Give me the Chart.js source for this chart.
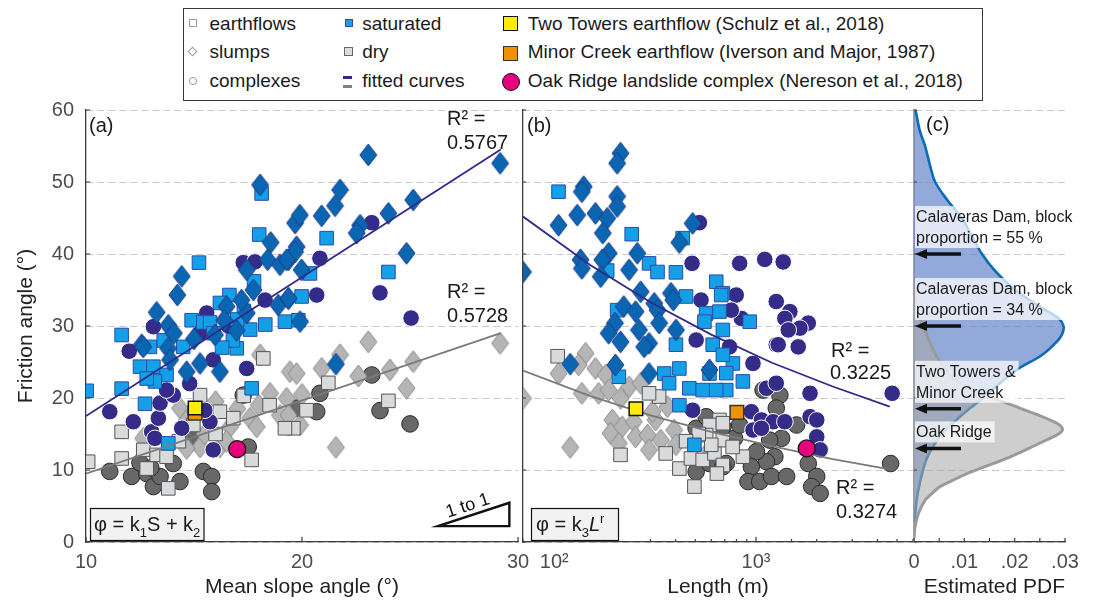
<!DOCTYPE html>
<html><head><meta charset="utf-8">
<script src="https://cdn.jsdelivr.net/npm/chart.js@4.4.1/dist/chart.umd.min.js"></script>
<style>
html,body{margin:0;padding:0;background:#fff;}
#wrap{position:relative;width:1093px;height:600px;overflow:hidden;font-family:"Liberation Sans",Arial,Helvetica,sans-serif;}
canvas{position:absolute;left:0;top:0;}
#legend{position:absolute;left:183px;top:8px;width:800px;height:93px;border:1.5px solid #3a3a3a;background:#fff;box-sizing:border-box;}
.lt{position:absolute;font-size:19px;line-height:22px;color:#1a1a1a;white-space:nowrap;}
.mk{position:absolute;box-sizing:border-box;}
</style></head>
<body><div id="wrap">
<canvas id="cA" width="1093" height="600"></canvas>
<canvas id="cB" width="1093" height="600"></canvas>
<canvas id="cC" width="1093" height="600"></canvas>
<div id="legend">
  <div class="mk" style="left:4.8px;top:9.8px;width:8px;height:8px;border:1px solid #9a9a9a;background:#fff"></div>
  <div class="mk" style="left:5.3px;top:39.3px;width:7px;height:7px;border:1px solid #9a9a9a;background:#fff;transform:rotate(45deg)"></div>
  <div class="mk" style="left:4.8px;top:68.2px;width:8px;height:8px;border:1px solid #9a9a9a;background:#fff;border-radius:50%"></div>
  <div class="lt" style="left:25.5px;top:3.6px">earthflows</div>
  <div class="lt" style="left:25.5px;top:32.4px">slumps</div>
  <div class="lt" style="left:25.5px;top:61.2px">complexes</div>
  <div class="mk" style="left:160.5px;top:9.6px;width:8.5px;height:8.5px;border:1px solid #2c4aa0;background:#1aa0e4"></div>
  <div class="mk" style="left:160.3px;top:38.3px;width:9px;height:9px;border:1px solid #666;background:#dcdcdc"></div>
  <div class="mk" style="left:158.5px;top:66.5px;width:9.7px;height:3.3px;background:#2e2a8c"></div>
  <div class="mk" style="left:158.5px;top:75.5px;width:9.7px;height:3.3px;background:#808080"></div>
  <div class="lt" style="left:178.2px;top:3.6px">saturated</div>
  <div class="lt" style="left:178.2px;top:32.4px">dry</div>
  <div class="lt" style="left:178.2px;top:61.2px">fitted curves</div>
  <div class="mk" style="left:319px;top:7.2px;width:15px;height:15px;border:1.5px solid #111;background:#ffec00"></div>
  <div class="mk" style="left:319px;top:36.8px;width:15px;height:15px;border:1.5px solid #333;background:#f29100"></div>
  <div class="mk" style="left:317.5px;top:64px;width:18px;height:18px;border:1.5px solid #111;background:#e5007d;border-radius:50%"></div>
  <div class="lt" style="left:343.8px;top:3.6px">Two Towers earthflow (Schulz et al., 2018)</div>
  <div class="lt" style="left:343.8px;top:32.4px">Minor Creek earthflow (Iverson and Major, 1987)</div>
  <div class="lt" style="left:343.8px;top:61.2px">Oak Ridge landslide complex (Nereson et al., 2018)</div>
</div>
</div>
<script>
// ---------------- DATA ----------------
// Panel (a): mean slope angle S (deg) vs friction angle phi (deg)
const aSatFlowS   = [18.13,18.02,15.23,17.78,16.64,16.2,19.21,19.83,11.65,14.89,15.43,15.74,17.31,12.96,14.5,10.03,11.65,12.73,13.81,17.67,12.5,13.12,13.73,13.19,12.81,16.98,21.14,20.37,24.0,19.98,15.9,16.8,17.6,18.3,16.3,13.6,17.0];
const aSatFlowPhi = [48.4,42.7,38.8,36.2,34.3,33.2,30.6,30.8,28.75,30.8,30.5,30.5,32.1,27.1,27.1,21.0,21.3,19.2,13.7,21.35,24.35,24.35,23.2,22.3,22.7,26.9,42.2,37.3,37.5,34.1,29.0,28.0,29.5,30.2,27.0,28.0,30.9];
const aSatSlumpS   = [18.06,18.55,18.41,19.37,18.98,19.68,19.75,14.43,14.23,17.44,17.75,16.51,18.9,19.37,13.27,13.81,14.07,17.44,16.97,15.97,12.58,13.8,16.2,15.28,14.66,13.89,12.65,23.07,29.17,21.76,21.53,19.9,20.91,22.69,22.53,24.0,25.15,19.68,19.29,19.98,24.84,19.37,19.91,21.57,17.2,15.0,16.4];
const aSatSlumpPhi = [49.6,41.6,39.2,39.2,38.5,44.3,41.0,36.9,34.3,37.8,35.0,32.7,32.9,33.8,31.9,30.1,29.0,31.8,29.4,28.75,27.4,26.9,23.65,24.8,23.65,25.3,27.1,53.75,52.6,48.9,46.7,45.4,45.3,44.0,42.9,45.65,47.5,40.3,39.2,37.8,40.1,33.85,30.6,24.7,33.6,28.2,30.8];
const aSatCplxS   = [17.28,17.82,18.29,13.12,15.59,15.28,11.1,12.19,13.04,13.35,13.43,14.04,13.19,17.44,15.89,13.73,14.43,15.74,15.89,15.5,23.23,20.83,20.68,23.61,25.05,12.0,14.8,16.6];
const aSatCplxPhi = [38.8,38.9,33.6,29.9,31.8,29.0,18.1,16.7,15.3,17.2,19.3,20.4,14.4,24.1,25.3,21.1,15.8,16.7,12.8,18.3,44.35,39.4,34.3,34.6,31.1,26.5,22.0,30.0];
const aDryFlowS   = [11.65,12.65,13.27,13.73,10.1,11.65,12.81,13.81,17.67,15.28,16.2,16.82,14.97,18.21,19.6,24.0,21.22,20.21,19.21,17.3,18.5,16.0,14.3];
const aDryFlowPhi = [15.3,12.8,12.1,11.85,11.15,11.6,10.2,7.45,11.4,20.4,18.1,17.2,16.25,25.5,15.8,19.6,22.1,18.3,15.8,20.3,19.0,15.0,14.0];
const aDrySlumpS   = [12.65,14.35,14.66,15.28,14.66,16.2,16.67,17.59,18.06,19.44,18.52,19.29,18.98,17.9,29.17,23.07,21.76,19.75,20.91,22.61,24.07,25.15,24.84,21.57,19.91,19.37,16.0,17.0,18.0,20.0,15.5,16.5];
const aDrySlumpPhi = [14.4,18.6,16.9,13.2,13.0,13.2,16.0,17.2,26.0,23.65,20.65,19.95,17.6,16.0,27.6,27.8,26.0,23.4,24.1,23.05,23.9,25.05,21.35,13.15,16.25,17.6,19.5,18.5,19.0,20.5,15.0,14.0];
const aDryCplxS   = [11.1,12.11,12.81,13.12,13.43,14.04,14.35,15.43,15.82,15.82,14.97,17.28,17.51,19.75,23.23,20.83,20.68,23.61,25.0,12.5,13.0];
const aDryCplxPhi = [9.8,9.1,9.5,7.7,9.1,10.9,8.4,9.8,9.1,7.0,14.6,20.4,13.2,18.6,23.2,20.65,18.1,18.25,16.4,11.0,10.3];
const aSatFitS = [10, 29.2],  aSatFitPhi = [17.5, 54.5];
const aDryFitS = [10, 29.2],  aDryFitPhi = [9.5, 29.0];
const aSpecialS = [17.0, 15.05, 15.05];   // Oak Ridge, Two Towers, Minor Creek
const aSpecialPhi = [12.9, 18.6, 17.9];

// Panel (b): length L (m) vs friction angle phi (deg)
const bSatFlowL   = [105,242,433,183,295,325,401,635,450,685,205,566,659,555,685,401,610,931,672,768,861,712,712,685,209,351,371,417,467,544,635,495,588,417];
const bSatFlowPhi = [48.65,42.75,42.2,37.7,38.7,37.5,37.45,36.15,34.1,34.55,32.2,31.75,32.0,30.6,29.45,27.4,27.4,30.6,34.3,24.8,22.3,23.45,21.1,26.0,22.95,23.4,22.05,19.0,21.35,21.1,21.1,13.5,23.4,24.1];
const bSatSlumpL   = [213,205,140,137,205,205,105,130,160,183,174,485,417,186,173,258,135,137,170,235,268,379,389,221,253,313,325,200,263,331,401,186,213,295,70,120,201,295,279,588];
const bSatSlumpPhi = [54.0,52.6,49.35,48.65,48.0,46.6,44.0,45.4,45.65,44.95,42.9,44.25,41.6,40.1,39.2,40.1,39.2,38.0,36.85,37.8,34.75,34.55,33.6,32.7,32.0,33.15,32.2,30.4,29.45,30.4,29.45,29.0,27.8,27.6,37.5,24.7,24.6,23.4,27.1,23.9];
const bSatCplxL   = [524,482,534,505,830,1105,1364,798,1260,1472,1390,1816,1652,1445,846,754,1260,1619,739,1288,966,1127,1260,1853,4730,948,1064,1216,1390,966,1064,1853,2000,2000,2080,485];
const bSatCplxPhi = [44.35,38.7,33.6,28.05,38.7,39.25,38.9,34.3,33.4,32.0,31.05,30.4,29.7,29.45,31.05,32.2,27.4,27.1,27.1,27.4,24.8,21.35,22.05,20.65,20.65,18.1,16.95,16.7,16.7,15.55,15.8,17.4,16.95,14.6,12.8,18.3];
const bDryFlowL   = [104,213,357,417,495,476,544,622,685,659,588,566,331,295,861,685,766,685,600,520,450,640];
const bDryFlowPhi = [25.8,12.1,12.3,10.2,7.7,11.6,11.4,12.3,14.15,16.95,16.25,14.85,20.2,20.65,11.85,16.5,13.2,10.7,13.5,15.0,14.0,9.5];
const bDrySlumpL   = [70,120,143,132,105,160,180,137,166,186,235,268,213,194,190,217,209,248,253,290,295,318,337,393,401,588,364,307];
const bDrySlumpPhi = [19.95,13.15,26.2,24.6,23.4,24.1,23.2,20.65,20.65,21.1,21.55,22.05,19.95,16.95,15.1,16.0,13.7,16.7,14.6,14.85,12.8,16.95,14.15,15.55,13.5,12.8,18.8,18.1];
const bDryCplxL   = [1084,1313,1260,1589,1340,1170,1240,1127,1005,948,912,1043,1193,1419,1816,2000,1888,2080,4645,783,830,712,505,588,685,505,566,685];
const bDryCplxPhi = [21.1,20.4,18.6,16.25,14.4,14.15,11.85,11.15,12.55,10.45,8.4,8.4,9.1,9.1,10.9,9.1,7.7,6.75,10.9,14.4,16.25,10.9,9.75,10.9,10.45,15.8,17.4,16.0];
const bSatFitL = [70,150,300,600,1200,2400,4600], bSatFitPhi = [45.2,38.5,33.3,28.8,24.9,21.6,18.8];
const bDryFitL = [70,150,300,600,1200,2400,4400], bDryFitPhi = [23.8,20.3,17.6,15.3,13.3,11.5,10.2];
const bSpecialL = [1783, 254, 804];       // Oak Ridge, Two Towers, Minor Creek
const bSpecialPhi = [13.0, 18.5, 18.0];

// Panel (c): estimated PDF of friction angle
const satPdfPhi = [60,57,55,52,50,47.5,45,42.5,40,37.5,35,32.7,31,30,29,28,26,24,22,20,18.5,17,15,12,10,7,5,3,1.5];
const satPdf    = [0.0003,0.0012,0.0022,0.0033,0.0042,0.0066,0.0095,0.0115,0.0135,0.0163,0.0201,0.025,0.0288,0.0297,0.0295,0.0286,0.0255,0.0206,0.017,0.0137,0.011,0.0085,0.0055,0.0028,0.0018,0.0008,0.0004,0.0001,0];
const dryPdfPhi = [36,33.6,31,29,27,25,23,21.5,20.2,19,17.9,16.8,16.2,15.6,15,14.2,13,11.8,10.5,9.5,8.5,7.7,6.5,5.8,4,2.1,0.5];
const dryPdf    = [0,0.0002,0.0012,0.0024,0.0036,0.0052,0.0075,0.0105,0.015,0.0195,0.0237,0.0275,0.029,0.0295,0.0287,0.0264,0.0228,0.019,0.0142,0.0105,0.0075,0.0052,0.0032,0.0022,0.0009,0.0002,0];
const notePhi = [40, 30, 18.5, 13];
const noteText = [['Calaveras Dam, block','proportion = 55 %'],['Calaveras Dam, block','proportion = 34 %'],['Two Towers &','Minor Creek'],['Oak Ridge']];

// Axis tick labels
const yTicks = [0,10,20,30,40,50,60];
const bTickLabels = {100:'10²', 1000:'10³'};
const cTickLabels = ['0','.01','.02','.03'];

// ---------------- RENDER ----------------
const FF = '"Liberation Sans", Arial, Helvetica, sans-serif';
Chart.defaults.font.family = FF;
const pts = (xs, ys) => xs.map((x, i) => ({x, y: ys[i]}));

function diamond(w, h, fill, stroke){
  const c = document.createElement('canvas'); c.width = w + 2; c.height = h + 2;
  const g = c.getContext('2d');
  g.beginPath(); g.moveTo(c.width/2, 1); g.lineTo(c.width-1, c.height/2); g.lineTo(c.width/2, c.height-1); g.lineTo(1, c.height/2); g.closePath();
  g.fillStyle = fill; g.fill(); g.lineWidth = 1; g.strokeStyle = stroke; g.stroke();
  return c;
}
const satDia = diamond(17, 22, '#0b66b1', '#1e3c8e');
const dryDia = diamond(17, 22, '#b5b5b5', '#8a8a8a');

const ST = {
  satSlump: {pointStyle: satDia, pointRadius: 11},
  satFlow:  {pointStyle: 'rect', pointRadius: 9.6, backgroundColor: '#14a0e6', borderColor: '#2c4ca6', borderWidth: 1},
  satCplx:  {pointStyle: 'circle', pointRadius: 8.3, backgroundColor: '#352b89', borderColor: '#ffffff', borderWidth: 1},
  drySlump: {pointStyle: dryDia, pointRadius: 11},
  dryFlow:  {pointStyle: 'rect', pointRadius: 9.6, backgroundColor: '#d9dadb', borderColor: '#555555', borderWidth: 1},
  dryCplx:  {pointStyle: 'circle', pointRadius: 8.3, backgroundColor: '#686868', borderColor: '#2a2a2a', borderWidth: 1}
};
function specials(xs, ys){
  return [
    {data: [{x: xs[0], y: ys[0]}], pointStyle: 'circle', pointRadius: 8.5, backgroundColor: '#e5007d', borderColor: '#111', borderWidth: 1.3},
    {data: [{x: xs[1], y: ys[1]}], pointStyle: 'rect', pointRadius: 9.6, backgroundColor: '#ffec00', borderColor: '#111', borderWidth: 1.5},
    {data: [{x: xs[2], y: ys[2]}], pointStyle: 'rect', pointRadius: 9.6, backgroundColor: '#f29100', borderColor: '#333', borderWidth: 1.5}
  ];
}
const fitLine = (d, col) => ({data: d, showLine: true, pointRadius: 0, borderColor: col, borderWidth: 1.8, fill: false});

const zeroPad = s => { s.paddingLeft = 0; s.paddingRight = 0; s.paddingTop = 0; s.paddingBottom = 0; };
const fixW = w => s => { s.width = w; zeroPad(s); };
const fixH = h => s => { s.height = h; zeroPad(s); };

function yScale(showLabels, borderColor, borderWidth){
  return {
    type: 'linear', min: 0, max: 60,
    afterFit: fixW(showLabels ? 86 : 0),
    afterBuildTicks: s => { s.ticks = yTicks.map(v => ({value: v})); },
    ticks: {display: showLabels, color: '#4d4d4d', font: {size: 20}, padding: 12},
    grid: {display: true, color: '#c9c9c9', lineWidth: 1, drawTicks: false},
    border: {display: true, color: borderColor, width: borderWidth, dash: [7, 4]},
    title: {display: showLabels, text: 'Friction angle (°)', color: '#222', font: {size: 21}, padding: {top: 14, bottom: 0}}
  };
}
function xTitle(t, align){ return {display: true, text: t, color: '#222', font: {size: 21}, padding: {top: 0, bottom: 0}, align: align || 'center'}; }

const inTicks = {
  id: 'inTicks',
  afterDraw(chart, args, o){
    const {ctx, chartArea: ca, scales: {x, y}} = chart;
    ctx.save(); ctx.strokeStyle = o.color; ctx.lineWidth = 1.2; ctx.beginPath();
    x.ticks.forEach(t => {
      const p = x.getPixelForValue(t.value);
      const len = (t.label !== '' && t.label !== undefined) ? o.xMajor : o.xMinor;
      ctx.moveTo(p, ca.bottom); ctx.lineTo(p, ca.bottom - len);
    });
    y.ticks.forEach(t => { const p = y.getPixelForValue(t.value); ctx.moveTo(ca.left, p); ctx.lineTo(ca.left + o.yLen, p); });
    ctx.stroke(); ctx.restore();
  }
};

function drawRuns(ctx, runs, x, y, size){
  runs.forEach(r => {
    const fs = (r.sub || r.sup) ? Math.round(size * 0.65) : size;
    ctx.font = (r.it ? 'italic ' : '') + fs + 'px ' + FF;
    const dy = r.sub ? size * 0.28 : (r.sup ? -size * 0.42 : 0);
    ctx.fillText(r.t, x, y + dy);
    x += ctx.measureText(r.t).width;
  });
}
function formulaBox(ctx, x0, y0, w, h, runs, tx, ty){
  ctx.fillStyle = '#f2f2f2'; ctx.fillRect(x0, y0, w, h);
  ctx.strokeStyle = '#111'; ctx.lineWidth = 1.2; ctx.strokeRect(x0, y0, w, h);
  ctx.fillStyle = '#1a1a1a'; drawRuns(ctx, runs, tx, ty, 20);
}

const annotA = {
  id: 'annotA',
  afterDraw(chart){
    const {ctx, chartArea: ca, scales: {x, y}} = chart;
    ctx.save();
    ctx.textAlign = 'left'; ctx.textBaseline = 'alphabetic'; ctx.fillStyle = '#1a1a1a';
    ctx.font = '20px ' + FF;
    ctx.fillText('(a)', ca.left + 3, ca.top + 22);
    ctx.fillText('R² =', 447, 125); ctx.fillText('0.5767', 447, 149);
    ctx.fillText('R² =', 447, 298); ctx.fillText('0.5728', 447, 322);
    formulaBox(ctx, 90.5, 508.5, 113.5, 32, [{t: 'φ = k'}, {t: '1', sub: true}, {t: 'S + k'}, {t: '2', sub: true}], 94, 531);
    // 1 to 1 triangle
    const x1 = x.getPixelForValue(26.3), x2 = x.getPixelForValue(29.6);
    const y1 = y.getPixelForValue(2.2), y2 = y.getPixelForValue(5.45);
    ctx.beginPath(); ctx.moveTo(x1, y1); ctx.lineTo(x2, y1); ctx.lineTo(x2, y2); ctx.closePath();
    ctx.lineWidth = 2.4; ctx.strokeStyle = '#111'; ctx.lineJoin = 'miter'; ctx.stroke();
    const ang = Math.atan2(y2 - y1, x2 - x1);
    ctx.translate((x1 + x2) / 2, (y1 + y2) / 2); ctx.rotate(ang);
    ctx.textAlign = 'center'; ctx.font = '18px ' + FF; ctx.fillStyle = '#111';
    ctx.fillText('1 to 1', -3, -5);
    ctx.restore();
  }
};
const annotB = {
  id: 'annotB',
  afterDraw(chart){
    const {ctx, chartArea: ca} = chart;
    ctx.save();
    ctx.textAlign = 'left'; ctx.textBaseline = 'alphabetic'; ctx.fillStyle = '#1a1a1a';
    ctx.font = '20px ' + FF;
    ctx.fillText('(b)', ca.left + 4, ca.top + 22);
    ctx.fillText('R² =', 831, 357); ctx.fillText('0.3225', 830, 379);
    ctx.fillText('R² =', 836, 494); ctx.fillText('0.3274', 836, 518);
    formulaBox(ctx, 531.5, 508.5, 87, 32, [{t: 'φ = k'}, {t: '3', sub: true}, {t: 'L', it: true}, {t: 'r', sup: true}], 536, 531);
    ctx.restore();
  }
};
const annotC = {
  id: 'annotC',
  afterDraw(chart){
    const {ctx, chartArea: ca, scales: {y}} = chart;
    ctx.save();
    ctx.textAlign = 'left'; ctx.textBaseline = 'alphabetic';
    ctx.fillStyle = '#1a1a1a'; ctx.font = '20px ' + FF;
    ctx.fillText('(c)', ca.left + 12, ca.top + 21);
    ctx.font = '16px ' + FF;
    notePhi.forEach((v, i) => {
      const ay = y.getPixelForValue(v);
      const lines = noteText[i];
      const last = ay - 11, first = last - 21 * (lines.length - 1);
      const w = Math.max(...lines.map(l => ctx.measureText(l).width)) + 4;
      ctx.fillStyle = 'rgba(255,255,255,0.72)';
      ctx.fillRect(ca.left + 1, first - 16, w, last + 5 - (first - 16));
      ctx.fillStyle = '#1a1a1a';
      lines.forEach((l, k) => ctx.fillText(l, ca.left + 2, first + 21 * k));
      // arrow
      ctx.strokeStyle = '#111'; ctx.lineWidth = 3.5;
      ctx.beginPath(); ctx.moveTo(ca.left + 47, ay); ctx.lineTo(ca.left + 10, ay); ctx.stroke();
      ctx.beginPath(); ctx.moveTo(ca.left + 1, ay); ctx.lineTo(ca.left + 13, ay - 5); ctx.lineTo(ca.left + 13, ay + 5); ctx.closePath();
      ctx.fillStyle = '#111'; ctx.fill();
    });
    ctx.restore();
  }
};

const common = (padL, padR) => ({
  responsive: false, animation: false, events: [], devicePixelRatio: 1,
  layout: {padding: {left: padL, right: padR, top: 110, bottom: 0}},
  plugins: {legend: {display: false}, tooltip: {enabled: false}}
});

// Chart (a)
new Chart(document.getElementById('cA'), {
  type: 'scatter',
  data: {datasets: [
    ...specials(aSpecialS, aSpecialPhi),
    fitLine(pts(aSatFitS, aSatFitPhi), '#2e2a8c'),
    fitLine(pts(aDryFitS, aDryFitPhi), '#7a7a7a'),
    {data: pts(aSatSlumpS, aSatSlumpPhi), ...ST.satSlump},
    {data: pts(aSatFlowS, aSatFlowPhi), ...ST.satFlow},
    {data: pts(aSatCplxS, aSatCplxPhi), ...ST.satCplx},
    {data: pts(aDryFlowS, aDryFlowPhi), ...ST.dryFlow},
    {data: pts(aDrySlumpS, aDrySlumpPhi), ...ST.drySlump},
    {data: pts(aDryCplxS, aDryCplxPhi), ...ST.dryCplx}
  ]},
  options: {
    ...common(0, 1093 - 518),
    plugins: {legend: {display: false}, tooltip: {enabled: false}, inTicks: {color: '#3c3c3c', xMajor: 5, xMinor: 3, yLen: 4}},
    scales: {
      x: {type: 'linear', min: 10, max: 30, afterFit: fixH(58),
          ticks: {stepSize: 10, color: '#4d4d4d', font: {size: 20}, padding: 8, maxRotation: 0},
          grid: {display: false, drawTicks: false}, border: {display: true, color: '#3c3c3c', width: 1.3},
          title: xTitle('Mean slope angle (°)')},
      y: yScale(true, '#3c3c3c', 1.3)
    }
  },
  plugins: [inTicks, annotA]
});

// Chart (b)
new Chart(document.getElementById('cB'), {
  type: 'scatter',
  data: {datasets: [
    ...specials(bSpecialL, bSpecialPhi),
    fitLine(pts(bSatFitL, bSatFitPhi), '#2e2a8c'),
    fitLine(pts(bDryFitL, bDryFitPhi), '#7a7a7a'),
    {data: pts(bSatSlumpL, bSatSlumpPhi), ...ST.satSlump},
    {data: pts(bSatFlowL, bSatFlowPhi), ...ST.satFlow},
    {data: pts(bSatCplxL, bSatCplxPhi), ...ST.satCplx},
    {data: pts(bDryFlowL, bDryFlowPhi), ...ST.dryFlow},
    {data: pts(bDrySlumpL, bDrySlumpPhi), ...ST.drySlump},
    {data: pts(bDryCplxL, bDryCplxPhi), ...ST.dryCplx}
  ]},
  options: {
    ...common(523, 1093 - 913),
    plugins: {legend: {display: false}, tooltip: {enabled: false}, inTicks: {color: '#3c3c3c', xMajor: 5, xMinor: 3, yLen: 3}},
    scales: {
      x: {type: 'logarithmic', min: 70, max: 6000, afterFit: fixH(58),
          ticks: {autoSkip: false, maxRotation: 0, color: '#4d4d4d', font: {size: 20}, padding: 8,
                  callback: v => bTickLabels[v] || ''},
          grid: {display: false, drawTicks: false}, border: {display: true, color: '#3c3c3c', width: 1.3},
          title: xTitle('Length (m)')},
      y: yScale(false, '#3c3c3c', 1.3)
    }
  },
  plugins: [inTicks, annotB]
});

// Chart (c)
new Chart(document.getElementById('cC'), {
  type: 'line',
  data: {datasets: [
    {data: pts(dryPdf, dryPdfPhi), borderColor: '#9a9a9a', borderWidth: 3, backgroundColor: 'rgba(170,170,170,0.58)', fill: 'origin', pointRadius: 0, tension: 0.35},
    {data: pts(satPdf, satPdfPhi), borderColor: '#0a6cb4', borderWidth: 2.6, backgroundColor: 'rgba(110,140,205,0.75)', fill: 'origin', pointRadius: 0, tension: 0.35}
  ]},
  options: {
    ...common(914, 1093 - 1065),
    indexAxis: 'y',
    plugins: {legend: {display: false}, tooltip: {enabled: false}, inTicks: {color: '#3c3c3c', xMajor: 4, xMinor: 4, yLen: 3}},
    scales: {
      x: {type: 'linear', min: 0, max: 0.03, afterFit: fixH(58),
          ticks: {stepSize: 0.005, autoSkip: false, maxRotation: 0, color: '#4d4d4d', font: {size: 20}, padding: 8,
                  callback: v => { const k = Math.round(v * 1000); return k % 10 === 0 ? cTickLabels[k / 10] : ''; }},
          grid: {display: false, drawTicks: false}, border: {display: true, color: '#3c3c3c', width: 1.3},
          title: xTitle('Estimated PDF', 'end')},
      y: yScale(false, '#a0a0a0', 2)
    }
  },
  plugins: [inTicks, annotC]
});
</script>
</body></html>
